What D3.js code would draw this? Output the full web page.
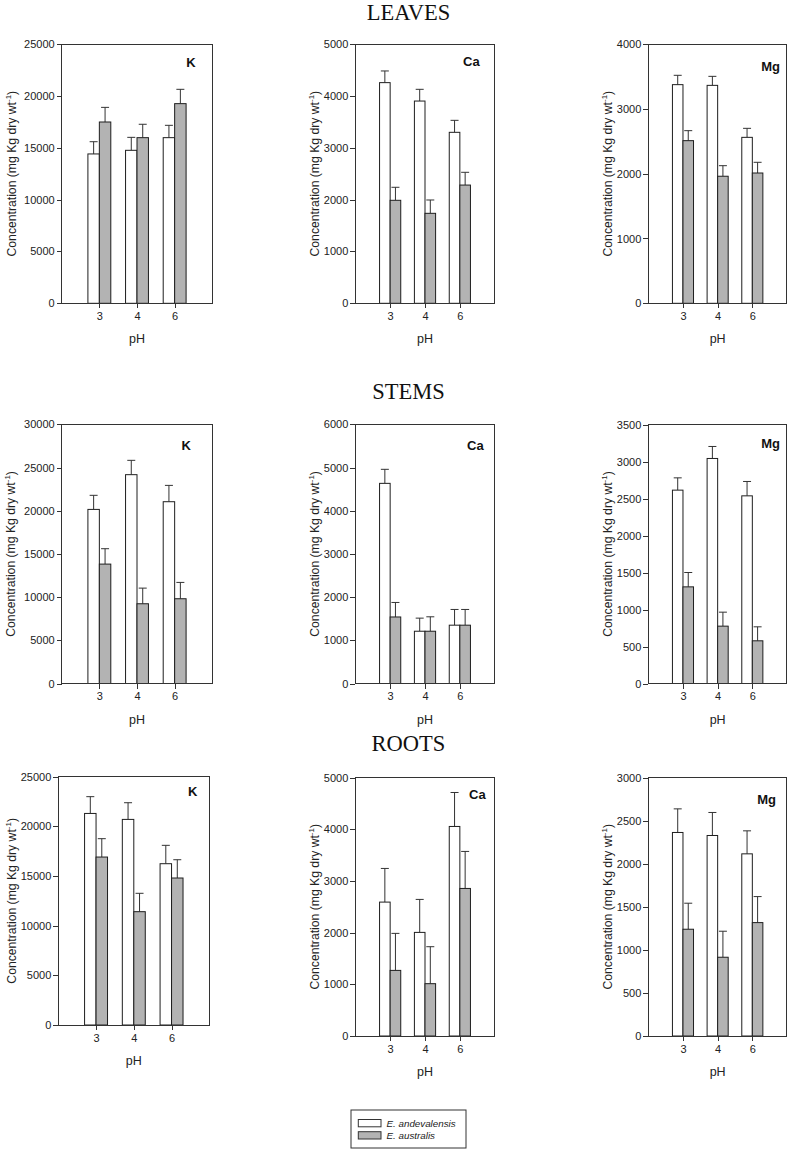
<!DOCTYPE html>
<html>
<head>
<meta charset="utf-8">
<title>Leaves, stems, roots – K, Ca, Mg</title>
<script src="https://d3js.org/d3.v7.min.js"></script>
<style>
    body { margin: 0; background: #fff; }
    .axis text { font-family: "Liberation Sans", Arial, sans-serif; font-size: 11px; fill: #222; }
    .axis line { stroke: #333; shape-rendering: crispEdges; }
    .axis path { display: none; }
    .frame { fill: none; stroke: #333; shape-rendering: crispEdges; }
    .ylab, .xlab { font-family: "Liberation Sans", Arial, sans-serif; fill: #222; }
    .elem { font-family: "Liberation Sans", Arial, sans-serif; font-weight: bold; font-size: 13px; fill: #111; }
    .organ { font-family: "Liberation Serif", "Times New Roman", serif; font-size: 22.5px; fill: #111; }
    .err { stroke: #333; stroke-width: 1; }
</style>
</head>
<body>
<div id="chart"></div>
<script>
    // categories
    var phLevels = ["3", "4", "6"];
    var species = ["E. andevalensis", "E. australis"];
    var organs = ["LEAVES", "STEMS", "ROOTS"];
    var elements = ["K", "Ca", "Mg"];

    // means [andevalensis, australis] and standard errors, mg Kg dry wt-1
    var leavesK  = [[14400, 14750, 15970], [17480, 15970, 19250]];
    var leavesKse  = [[1180, 1250, 1190], [1410, 1290, 1380]];
    var leavesCa = [[4255, 3900, 3297], [1986, 1735, 2280]];
    var leavesCase = [[225, 226, 231], [251, 257, 246]];
    var leavesMg = [[3373, 3362, 2560], [2509, 1960, 2010]];
    var leavesMgse = [[144, 139, 139], [154, 163, 165]];

    var stemsK  = [[20150, 24170, 21040], [13820, 9230, 9810]];
    var stemsKse  = [[1630, 1660, 1890], [1780, 1810, 1890]];
    var stemsCa = [[4633, 1210, 1350], [1540, 1210, 1350]];
    var stemsCase = [[325, 303, 364], [336, 334, 364]];
    var stemsMg = [[2613, 3041, 2536], [1306, 775, 577]];
    var stemsMgse = [[166, 162, 194], [194, 189, 189]];

    var rootsK  = [[21300, 20700, 16240], [16910, 11410, 14800]];
    var rootsKse  = [[1690, 1680, 1850], [1850, 1850, 1840]];
    var rootsCa = [[2590, 2004, 4053], [1269, 1012, 2854]];
    var rootsCase = [[651, 638, 657], [716, 715, 716]];
    var rootsMg = [[2362, 2327, 2114], [1239, 914, 1316]];
    var rootsMgse = [[274, 267, 267], [302, 302, 302]];

    // y tick labels
    var ticks25000 = [0, 5000, 10000, 15000, 20000, 25000];
    var ticks30000 = [0, 5000, 10000, 15000, 20000, 25000, 30000];
    var ticks5000 = [0, 1000, 2000, 3000, 4000, 5000];
    var ticks6000 = [0, 1000, 2000, 3000, 4000, 5000, 6000];
    var ticks4000 = [0, 1000, 2000, 3000, 4000];
    var ticks3500 = [0, 500, 1000, 1500, 2000, 2500, 3000, 3500];
    var ticks3000 = [0, 500, 1000, 1500, 2000, 2500, 3000];

    // panel frames in page pixels
    var panels = [
        { el: 0, mean: leavesK,  se: leavesKse,  ticks: ticks25000, x0: 61.7,  x1: 212.3, y0: 44,    y1: 303.3, ylx: 12,    lab: [195.7, 66.5] },
        { el: 1, mean: leavesCa, se: leavesCase, ticks: ticks5000,  x0: 355.3, x1: 494.7, y0: 44,    y1: 303.3, ylx: 314.7, lab: [479.7, 66.3] },
        { el: 2, mean: leavesMg, se: leavesMgse, ticks: ticks4000,  x0: 648.3, x1: 787,   y0: 44,    y1: 303.3, ylx: 607.7, lab: [780, 71.2] },
        { el: 0, mean: stemsK,   se: stemsKse,   ticks: ticks30000, x0: 61.7,  x1: 212.3, y0: 424.3, y1: 683.5, ylx: 11,    lab: [191, 450.2] },
        { el: 1, mean: stemsCa,  se: stemsCase,  ticks: ticks6000,  x0: 355.3, x1: 494.7, y0: 424.3, y1: 683.5, ylx: 314.7, lab: [483.7, 449.5] },
        { el: 2, mean: stemsMg,  se: stemsMgse,  ticks: ticks3500,  x0: 648.3, x1: 787,   y0: 424.5, y1: 683.5, ylx: 607.7, lab: [780, 447.6] },
        { el: 0, mean: rootsK,   se: rootsKse,   ticks: ticks25000, x0: 58.3,  x1: 209.3, y0: 776.7, y1: 1025,  ylx: 11.7,  lab: [197.3, 796] },
        { el: 1, mean: rootsCa,  se: rootsCase,  ticks: ticks5000,  x0: 355.3, x1: 494.7, y0: 777.5, y1: 1036,  ylx: 314.7, lab: [485.7, 799] },
        { el: 2, mean: rootsMg,  se: rootsMgse,  ticks: ticks3000,  x0: 648.3, x1: 787,   y0: 777.5, y1: 1036,  ylx: 607.7, lab: [776, 803.5] }
    ];
    var titleY = [20, 399.3, 751.3];
    var fills = ["#ffffff", "#b3b3b3"];

    var svg = d3.select("#chart").append("svg")
        .attr("width", 789)
        .attr("height", 1150);

    // organ titles
    svg.selectAll(".organ")
        .data(organs)
        .enter().append("text")
        .attr("class", "organ")
        .attr("x", 408.5)
        .attr("y", (d, i) => titleY[i])
        .attr("text-anchor", "middle")
        .text(d => d);

    panels.forEach(function(p) {
        var w = p.x1 - p.x0, h = p.y1 - p.y0;
        var g = svg.append("g").attr("transform", "translate(" + p.x0 + "," + p.y0 + ")");

        var x = d3.scalePoint().domain(phLevels).range([0, w]).padding(1);
        var y = d3.scaleLinear().domain([0, d3.max(p.ticks)]).range([h, 0]);
        var bw = w * 0.076;

        species.forEach(function(s, si) {
            var rows = phLevels.map((ph, i) => ({ ph: ph, v: p.mean[si][i], se: p.se[si][i] }));
            var left = d => si === 0 ? x(d.ph) - bw : x(d.ph);

            // error bars (upper only)
            g.selectAll(null).data(rows).enter().append("line")
                .attr("class", "err")
                .attr("x1", d => left(d) + bw / 2).attr("x2", d => left(d) + bw / 2)
                .attr("y1", d => y(d.v)).attr("y2", d => y(d.v + d.se));
            g.selectAll(null).data(rows).enter().append("line")
                .attr("class", "err")
                .attr("x1", d => left(d) + bw / 2 - 4).attr("x2", d => left(d) + bw / 2 + 4)
                .attr("y1", d => y(d.v + d.se)).attr("y2", d => y(d.v + d.se));

            g.selectAll(null).data(rows).enter().append("rect")
                .attr("x", left)
                .attr("y", d => y(d.v))
                .attr("width", bw)
                .attr("height", d => h - y(d.v))
                .style("fill", fills[si])
                .style("stroke", "#1e1e1e")
                .style("stroke-width", 1);
        });

        g.append("rect").attr("class", "frame")
            .attr("width", w).attr("height", h);

        g.append("g").attr("class", "axis")
            .call(d3.axisLeft(y).tickValues(p.ticks).tickSize(5).tickPadding(2).tickFormat(d3.format("d")));

        g.append("g").attr("class", "axis")
            .attr("transform", "translate(0," + h + ")")
            .call(d3.axisBottom(x).tickSize(5).tickPadding(4));

        // element label
        svg.append("text").attr("class", "elem")
            .attr("x", p.lab[0]).attr("y", p.lab[1])
            .attr("text-anchor", "end")
            .text(elements[p.el]);

        // x label
        svg.append("text").attr("class", "xlab")
            .attr("x", p.x0 + w / 2).attr("y", p.y1 + 40)
            .attr("text-anchor", "middle")
            .style("font-size", "12.5px")
            .text("pH");

        // y label
        var yl = svg.append("text").attr("class", "ylab")
            .attr("transform", "translate(" + (p.ylx + 4) + "," + (p.y0 + h / 2) + ") rotate(-90)")
            .attr("text-anchor", "middle")
            .style("font-size", "12.2px");
        yl.append("tspan").text("Concentration (mg Kg dry wt");
        yl.append("tspan").attr("dy", -5).style("font-size", "8px").text("-1");
        yl.append("tspan").attr("dy", 5).text(")");
    });

    // legend
    var lg = svg.append("g").attr("transform", "translate(351,1110)");
    lg.append("rect").attr("width", 115).attr("height", 38)
        .style("fill", "#fff").style("stroke", "#333");
    species.forEach(function(s, i) {
        lg.append("rect")
            .attr("x", 7.3).attr("y", 9.5 + i * 12.2)
            .attr("width", 22.7).attr("height", 7.3)
            .style("fill", fills[i]).style("stroke", "#333");
        lg.append("text")
            .attr("x", 35.5).attr("y", 17 + i * 12.2)
            .style("font-family", "'Liberation Sans', Arial, sans-serif")
            .style("font-style", "italic")
            .style("font-size", "9.8px")
            .style("fill", "#222")
            .text(s);
    });
</script>
</body>
</html>
